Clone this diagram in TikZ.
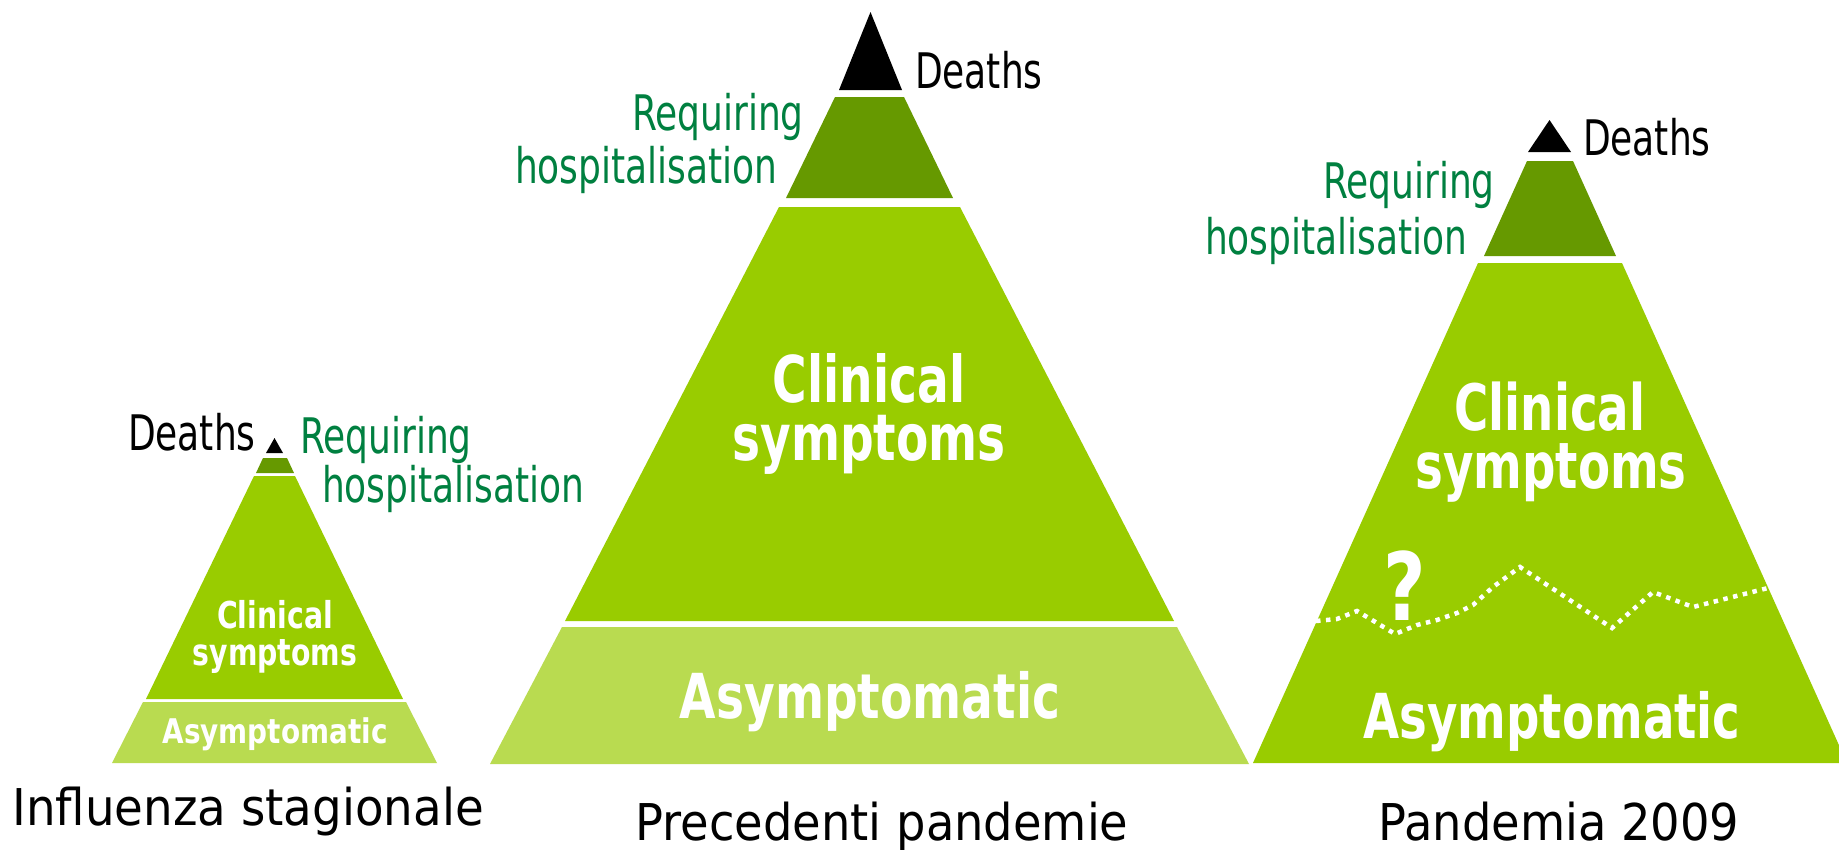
\documentclass[tikz,border=0pt]{standalone}
\usepackage{fontspec}
\setmainfont{DejaVu Sans}
\usepackage{graphicx}
\definecolor{clin}{HTML}{99CC00}
\definecolor{hosp}{HTML}{669900}
\definecolor{asym}{HTML}{B9DB50}
\definecolor{hosptext}{HTML}{008040}
\newcommand{\lbl}[3]{\scalebox{#1}[1]{\fontsize{#2}{#2}\selectfont #3}}
\begin{document}
\begin{tikzpicture}[x=1pt,y=-1pt,
  txt/.style={inner sep=0pt,outer sep=0pt},
  deathlbl/.style={txt,anchor=base west,text=black},
  hosplbl/.style={txt,anchor=base west,text=hosptext},
  inlbl/.style={txt,anchor=base,text=white},
  caption/.style={txt,anchor=base,text=black},
  dotline/.style={white,line width=4.5pt,dash pattern=on 4.5pt off 5.5pt}]
\useasboundingbox (0,0) rectangle (1839,849);
\clip (0,0) rectangle (1839,849);
\fill[white] (0,0) rectangle (1839,849);

% ---------- left pyramid: Influenza stagionale ----------
\fill[black] (274.5,438) -- (283,453) -- (266,453) -- cycle;
\fill[hosp] (263,458) -- (287,458) -- (294,473) -- (256,473) -- cycle;
\fill[clin] (254,476) -- (295,476) -- (403,699) -- (146,699) -- cycle;
\fill[asym] (143,702) -- (406,702) -- (437,763) -- (112,763) -- cycle;

\node[deathlbl] (dL) at (128,450) {\lbl{0.735}{49}{Deaths}};
\node[hosplbl] (rL1) at (300,453) {\lbl{0.735}{49}{Requiring}};
\node[hosplbl] (rL2) at (322,502) {\lbl{0.735}{49}{hospitalisation}};
\node[inlbl] (cL1) at (275,628) {\lbl{0.765}{37}{\bfseries Clinical}};
\node[inlbl] (cL2) at (275,665) {\lbl{0.765}{37}{\bfseries symptoms}};
\node[inlbl] (aL) at (275,743) {\lbl{0.82}{34}{\bfseries Asymptomatic}};
\node[caption] (capL) at (248,825) {\lbl{0.922}{50.7}{Influenza stagionale}};

% ---------- middle pyramid: Precedenti pandemie ----------
\fill[black] (870.5,12) -- (902,90) -- (839,90) -- cycle;
\fill[hosp] (835,97) -- (904,97) -- (953,198) -- (786,198) -- cycle;
\fill[clin] (779,207) -- (960,207) -- (1174,621) -- (565,621) -- cycle;
\fill[asym] (562,627) -- (1177,627) -- (1249,764) -- (490,764) -- cycle;

\node[deathlbl] (dM) at (915,88) {\lbl{0.735}{49}{Deaths}};
\node[hosplbl] (rM1) at (632,130) {\lbl{0.735}{49}{Requiring}};
\node[hosplbl] (rM2) at (515,183) {\lbl{0.735}{49}{hospitalisation}};
\node[inlbl] (cM1) at (869,402) {\lbl{0.73}{64.5}{\bfseries Clinical}};
\node[inlbl] (cM2) at (869,460) {\lbl{0.73}{64.5}{\bfseries symptoms}};
\node[inlbl] (aM) at (870,718) {\lbl{0.76}{62}{\bfseries Asymptomatic}};
\node[caption] (capM) at (882,840) {\lbl{0.915}{50.7}{Precedenti pandemie}};

% ---------- right pyramid: Pandemia 2009 ----------
\fill[black] (1549.5,120) -- (1571,152) -- (1528,152) -- cycle;
\fill[hosp] (1527,161) -- (1573,161) -- (1616,256) -- (1484,256) -- cycle;
\fill[clin] (1478,263) -- (1622,263) -- (1847,763) -- (1253,763) -- cycle;

\draw[dotline] (1316,621) -- (1337,619) -- (1357,611) -- (1377,623) -- (1395,634)
  -- (1417,625) -- (1437,620) -- (1457,613) -- (1473,605) -- (1493,587)
  -- (1520,567) -- (1612,628) -- (1653,592) -- (1693,607) -- (1768,588);

\node[deathlbl] (dR) at (1583,155) {\lbl{0.735}{49}{Deaths}};
\node[hosplbl] (rR1) at (1323,198) {\lbl{0.735}{49}{Requiring}};
\node[hosplbl] (rR2) at (1205,254) {\lbl{0.735}{49}{hospitalisation}};
\node[inlbl] (cR1) at (1550,430) {\lbl{0.73}{64}{\bfseries Clinical}};
\node[inlbl] (cR2) at (1551,488) {\lbl{0.73}{64}{\bfseries symptoms}};
\node[inlbl] (qR) at (1405,620) {\lbl{0.78}{94}{\bfseries ?}};
\node[inlbl] (aR) at (1552,738) {\lbl{0.753}{62}{\bfseries Asymptomatic}};
\node[caption] (capR) at (1559,840) {\lbl{0.915}{50.7}{Pandemia 2009}};
\end{tikzpicture}
\end{document}
